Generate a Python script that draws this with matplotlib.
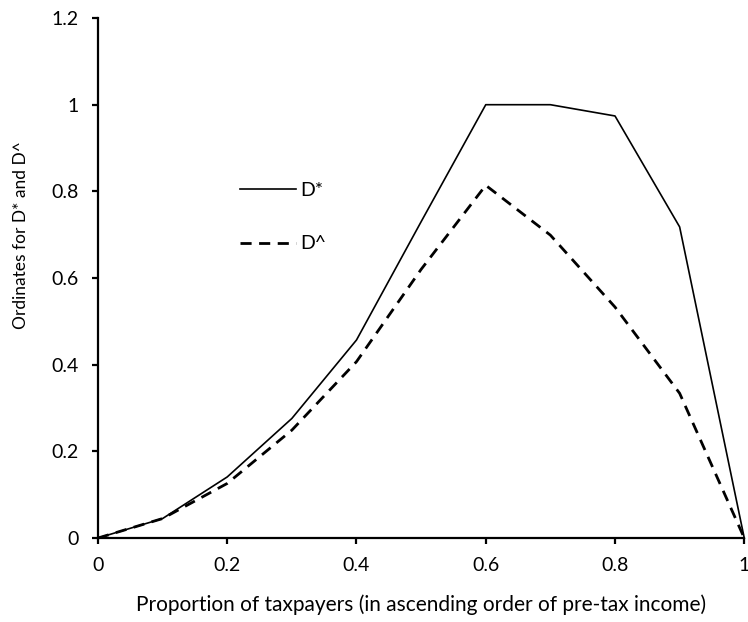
import matplotlib
matplotlib.use("Agg")
import matplotlib.pyplot as plt

plt.rcParams['font.family'] = ['Lato', 'DejaVu Sans']

# proportion of taxpayers, ordered by pre-tax income
share = [0, 0.1, 0.2, 0.3, 0.4, 0.5, 0.6, 0.7, 0.8, 0.9, 1.0]
d_star = [0, 0.045, 0.141, 0.276, 0.457, 0.73, 1.0, 1.0, 0.974, 0.718, 0]
d_hat = [0, 0.045, 0.126, 0.249, 0.407, 0.62, 0.814, 0.699, 0.533, 0.334, 0]

xticks = [0, 0.2, 0.4, 0.6, 0.8, 1]
xtick_labels = ['0', '0.2', '0.4', '0.6', '0.8', '1']
yticks = [0, 0.2, 0.4, 0.6, 0.8, 1, 1.2]
ytick_labels = ['0', '0.2', '0.4', '0.6', '0.8', '1', '1.2']

fs = 14

fig = plt.figure(figsize=(7.48, 6.22), dpi=100)
ax = fig.add_axes([0.131, 0.135, 0.864, 0.836])

ax.plot(share, d_star, color='black', lw=1.2, label='D*', clip_on=False)
ax.plot(share, d_hat, color='black', lw=2.0, dashes=(4, 2.7), label='D^', clip_on=False)

ax.set_xlim(0, 1)
ax.set_ylim(0, 1.2)
ax.set_xticks(xticks)
ax.set_xticklabels(xtick_labels)
ax.set_yticks(yticks)
ax.set_yticklabels(ytick_labels)

for side in ('top', 'right'):
    ax.spines[side].set_visible(False)
for side in ('left', 'bottom'):
    ax.spines[side].set_linewidth(1.6)
ax.tick_params(direction='out', length=4, width=1.6, labelsize=fs, colors='black')
ax.tick_params(axis='x', pad=10)
ax.tick_params(axis='y', pad=10)

ax.set_xlabel('Proportion of taxpayers (in ascending order of pre-tax income)',
              fontsize=15, labelpad=14)
ax.set_ylabel('Ordinates for D* and D^', fontsize=12.5)
ax.yaxis.set_label_coords(-0.106, 0.583)

ax.legend(loc='upper left', bbox_to_anchor=(222 / 748, 1 - 164 / 622),
          bbox_transform=fig.transFigure, frameon=False, fontsize=fs,
          handlelength=2.9, handletextpad=0.2, labelspacing=1.9)

fig.savefig('out.png', dpi=100)
